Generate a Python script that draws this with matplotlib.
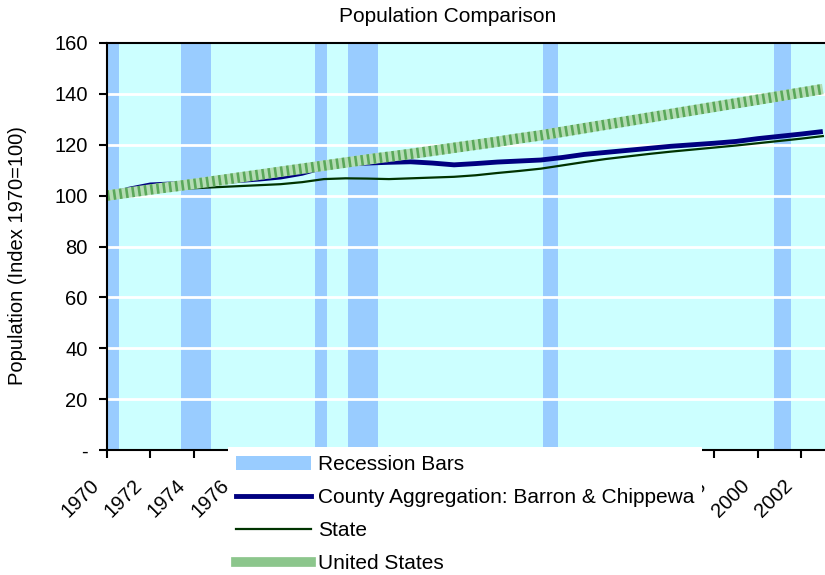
import matplotlib
matplotlib.use("Agg")
import matplotlib.pyplot as plt
import matplotlib.transforms as mtransforms
from matplotlib.patches import Patch
from matplotlib.lines import Line2D

plt.rcParams['font.family'] = ['Liberation Sans', 'DejaVu Sans']

years = list(range(1970, 2004))

# index values, 1970 = 100
county = [100.0, 102.5, 104.2, 104.6, 105.0, 105.4, 105.9, 106.5, 107.3, 108.8,
          111.2, 112.5, 112.8, 113.1, 113.3, 112.8, 112.1, 112.6, 113.2, 113.6,
          114.0, 115.0, 116.2, 117.0, 117.8, 118.6, 119.4, 120.0, 120.6, 121.3,
          122.4, 123.3, 124.2, 125.2]
state = [100.0, 101.3, 102.0, 102.4, 102.9, 103.3, 103.7, 104.1, 104.5, 105.3,
         106.5, 106.8, 106.7, 106.5, 106.8, 107.1, 107.4, 108.0, 108.9, 109.7,
         110.6, 111.9, 113.2, 114.4, 115.4, 116.4, 117.3, 118.1, 118.9, 119.7,
         120.6, 121.5, 122.4, 123.4]
usa = [100.0, 101.2, 102.4, 103.5, 104.6, 105.8, 107.0, 108.2, 109.4, 110.6,
       111.8, 113.0, 114.2, 115.3, 116.4, 117.6, 118.8, 120.0, 121.2, 122.5,
       123.7, 125.1, 126.5, 127.9, 129.3, 130.7, 132.1, 133.5, 134.9, 136.3,
       137.7, 139.1, 140.5, 141.9]

# recession periods (start, end) in fractional years
recession_start = [1970.0, 1973.4, 1979.6, 1981.1, 1990.1, 2000.75]
recession_end = [1970.55, 1974.8, 1980.15, 1982.5, 1990.8, 2001.55]

xticks = list(range(1970, 2004, 2))
yticks = [0, 20, 40, 60, 80, 100, 120, 140, 160]
ylabels = ['-', '20', '40', '60', '80', '100', '120', '140', '160']

fig = plt.figure(figsize=(8.25, 5.75), dpi=100)
ax = fig.add_axes([107/825, 1-450/575, 1-107/825, (450-43)/575])
ax.set_facecolor('#CCFFFF')

for s, e in zip(recession_start, recession_end):
    ax.axvspan(s, e, color='#99CCFF', lw=0, zorder=1)

for y in yticks[1:-1]:
    ax.axhline(y, color='white', lw=2, zorder=1.5)

ax.plot(years, county, color='#000080', lw=3.5, zorder=3, solid_capstyle='butt')
ax.plot(years, state, color='#003300', lw=1.6, zorder=3.5)
ax.plot(years, usa, color='#b4dcb4', lw=7.5, zorder=4, solid_capstyle='butt')
ax.plot(years, usa, color='#5aa85a', lw=7.5, zorder=4.1, dashes=(0.25, 0.35),
        solid_capstyle='butt')

ax.set_xlim(1970, 2003.1)
ax.set_ylim(0, 160)
ax.set_xticks(xticks)
ax.set_xticklabels([str(x) for x in xticks], rotation=45, ha='center',
                   va='center', rotation_mode='anchor', fontsize=14.5)
ax.set_yticks(yticks)
ax.set_yticklabels(ylabels, fontsize=14.5)
ax.tick_params(axis='both', direction='out', length=6, width=1.5, color='black')
ax.tick_params(axis='y', pad=8)
ax.tick_params(axis='x', pad=29)

# shift rotated year labels to the left, like the original
shift = mtransforms.ScaledTranslation(-27/100, 0, fig.dpi_scale_trans)
for lab in ax.get_xticklabels():
    lab.set_transform(lab.get_transform() + shift)

for side in ['left', 'bottom', 'top']:
    ax.spines[side].set_color('black')
    ax.spines[side].set_linewidth(1.5)
    ax.spines[side].set_zorder(5)
ax.spines['right'].set_visible(False)

fig.text(448/825, 1-17/575, 'Population Comparison', fontsize=15,
         ha='center', va='center')
fig.text(18/825, 1-256/575, 'Population (Index 1970=100)', fontsize=14.5,
         ha='center', va='center', rotation=90)

handles = [
    Patch(facecolor='#99CCFF', edgecolor='none'),
    Line2D([], [], color='#000080', lw=3.5),
    Line2D([], [], color='#003300', lw=1.6),
    Line2D([], [], color='#8cc68c', lw=7),
]
labels = ['Recession Bars', 'County Aggregation: Barron & Chippewa',
          'State', 'United States']
leg = fig.legend(handles, labels, loc='upper left',
                 bbox_to_anchor=(228/825, 1-447/575), fontsize=15,
                 frameon=True, fancybox=False, framealpha=1,
                 edgecolor='none', facecolor='white', borderpad=0.4,
                 borderaxespad=0, handlelength=3.6, handletextpad=0.3,
                 labelspacing=0.67)

fig.savefig('out.png', dpi=100)
